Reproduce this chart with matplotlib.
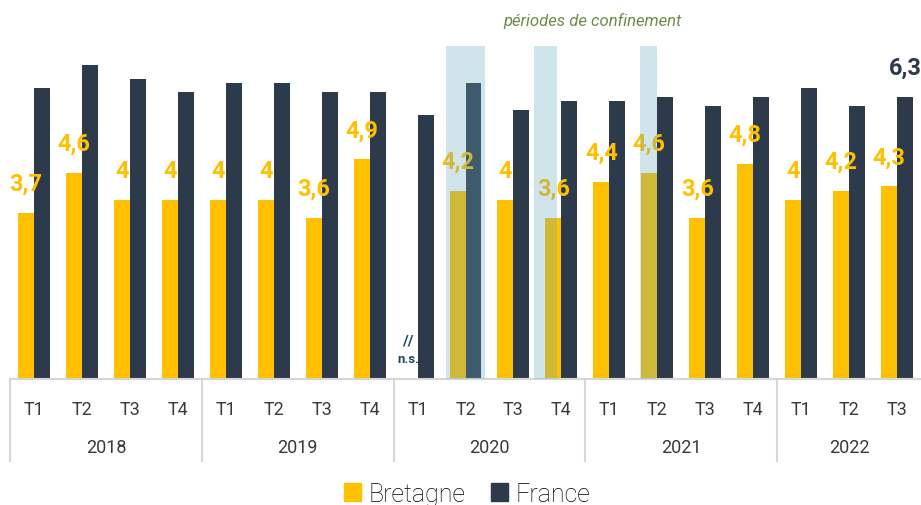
import numpy as np
import matplotlib
matplotlib.use("Agg")
import matplotlib.pyplot as plt
from matplotlib.patches import Patch
from matplotlib import rc

rc('font', **{'family': 'sans-serif', 'sans-serif': ['Roboto', 'DejaVu Sans']})

# ---------------- data
years = ["2018", "2019", "2020", "2021", "2022"]
quarters_per_year = [4, 4, 4, 4, 3]
quarters = ["T1", "T2", "T3", "T4"] * 4 + ["T1", "T2", "T3"]

bretagne = [3.7, 4.6, 4.0, 4.0,
            4.0, 4.0, 3.6, 4.9,
            np.nan, 4.2, 4.0, 3.6,
            4.4, 4.6, 3.6, 4.8,
            4.0, 4.2, 4.3]
france = [6.5, 7.0, 6.7, 6.4,
          6.6, 6.6, 6.4, 6.4,
          5.9, 6.6, 6.0, 6.2,
          6.2, 6.3, 6.1, 6.3,
          6.5, 6.1, 6.3]

# lockdown periods, in quarter-slot units
confinements = [(8.6, 9.4), (10.43, 10.91), (12.64, 12.99)]

YELLOW = '#ffc000'
NAVY = '#2d3a4b'
GREY = '#d6d6d6'

# ---------------- figure
fig = plt.figure(figsize=(9.21, 5.06), dpi=100)
ax = fig.add_axes([10 / 921, 126 / 506, 911 / 921, 333 / 506])

n = len(quarters)
x = np.arange(n)
w = 0.333

ax.bar(x - w / 2, bretagne, w, color=YELLOW, zorder=2)
ax.bar(x + w / 2, france, w, color=NAVY, zorder=2)

for xi, v in zip(x, bretagne):
    if np.isnan(v):
        # not significant
        ax.text(xi - w / 2 - 0.03, 0.85, "//", ha='center', va='center',
                fontsize=11, fontweight='bold', color='#1c4a57', zorder=2.5)
        ax.text(xi - w / 2 - 0.03, 0.45, "n.s.", ha='center', va='center',
                fontsize=9.5, fontweight='bold', color='#1c4a57', zorder=2.5)
        continue
    label = ('%.1f' % v).replace('.0', '').replace('.', ',')
    ax.text(xi - w / 2, v + 0.40, label, ha='center', va='bottom',
            fontsize=17, fontweight='bold', color=YELLOW, zorder=2.5)

# only the last France value is labelled
ax.text(x[-1] + w / 2, france[-1] + 0.40,
        ('%.1f' % france[-1]).replace('.', ','), ha='center', va='bottom',
        fontsize=17, fontweight='bold', color=NAVY, zorder=2.5)

for x0, x1 in confinements:
    ax.axvspan(x0, x1, color='#66a9bd', alpha=0.3, lw=0, zorder=3)

ax.set_xlim(-0.5, n - 0.5)
ax.set_ylim(0, 7.43)
for s in ['top', 'left', 'right']:
    ax.spines[s].set_visible(False)
ax.spines['bottom'].set_color(GREY)
ax.spines['bottom'].set_linewidth(1.5)
ax.set_yticks([])
ax.set_xticks([])

# two-level category axis
trans = ax.get_xaxis_transform()
for xi, q in zip(x, quarters):
    ax.text(xi, -0.09, q, transform=trans, ha='center', va='center',
            fontsize=13, color='#3a3a3a')

start = -0.5
for yr, nq in zip(years, quarters_per_year):
    ax.plot([start, start], [0, -0.246], transform=trans, color=GREY,
            lw=1.5, clip_on=False)
    ax.text(start + nq / 2, -0.204, yr, transform=trans, ha='center',
            va='center', fontsize=13, color='#3a3a3a')
    start += nq

fig.text(0.643, 0.958, "périodes de confinement", ha='center', va='center',
         fontsize=12, style='italic', color='#6f8a45')

handles = [Patch(color=YELLOW, label='Bretagne'),
           Patch(color=NAVY, label='France')]
fig.legend(handles=handles, loc='center', bbox_to_anchor=(0.507, 0.022),
           ncol=2, frameon=False, handlelength=0.7,
           handleheight=0.7, handletextpad=0.3, columnspacing=1.0,
           prop={'size': 18, 'weight': 'light'})

fig.savefig("out.png", dpi=100)
